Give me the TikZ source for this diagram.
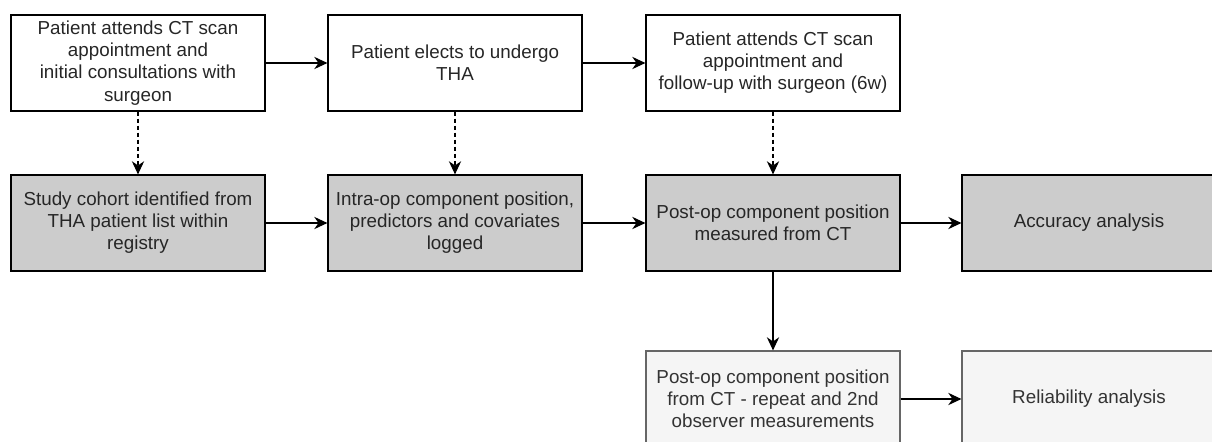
\documentclass[tikz,border=0pt]{standalone}
\usepackage{fontspec}
\setmainfont{Liberation Sans}
\usetikzlibrary{arrows.meta}
\definecolor{boxgrey}{HTML}{CCCCCC}
\definecolor{palegrey}{HTML}{F5F5F5}
\definecolor{edgegrey}{HTML}{666666}
\definecolor{textgrey}{HTML}{333333}

\begin{document}
\begin{tikzpicture}[x=0.02cm,y=-0.02cm,line width=0.7pt,>={Stealth[length=7.5pt,width=7pt]},
    every node/.style={draw,rectangle,minimum width=5.08cm,minimum height=1.92cm,inner sep=0pt,align=center,text=black!85,font=\fontsize{10.7}{12.6}\selectfont},
    done/.style={fill=boxgrey},
    pale/.style={fill=palegrey,draw=edgegrey,text=textgrey},
    link/.style={->,dash pattern=on 2.5pt off 1.5pt}]
    \useasboundingbox (0,0) rectangle (1212,442);

    % clinical pathway
    \node (c1) at (138,63) {Patient attends CT scan\\appointment and\\initial consultations with\\surgeon};
    \node (c2) at (455,63) {Patient elects to undergo\\THA};
    \node (c3) at (773,63) {Patient attends CT scan\\appointment and\\follow-up with surgeon (6w)};

    % study steps
    \node[done] (s1) at (138,223) {Study cohort identified from\\THA patient list within\\registry};
    \node[done] (s2) at (455,223) {Intra-op component position,\\predictors and covariates\\logged};
    \node[done] (s3) at (773,223) {Post-op component position\\measured from CT};
    \node[done] (s4) at (1089,223) {Accuracy analysis};

    \node[pale] (r1) at (773,399) {Post-op component position\\from CT - repeat and 2nd\\observer measurements};
    \node[pale] (r2) at (1089,399) {Reliability analysis};

    \draw[->] (c1) -- (c2);
    \draw[->] (c2) -- (c3);
    \draw[link] (c1) -- (s1);
    \draw[link] (c2) -- (s2);
    \draw[link] (c3) -- (s3);
    \draw[->] (s1) -- (s2);
    \draw[->] (s2) -- (s3);
    \draw[->] (s3) -- (s4);
    \draw[->] (s3) -- (r1);
    \draw[->] (r1) -- (r2);
\end{tikzpicture}
\end{document}
